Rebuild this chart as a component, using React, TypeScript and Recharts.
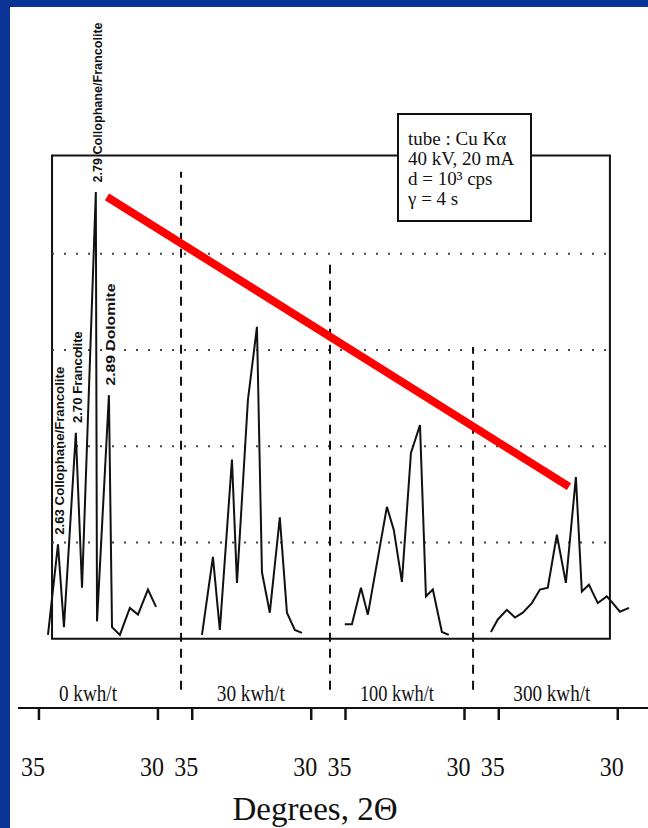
import React from "react";
import {
  ComposedChart,
  Line,
  XAxis,
  YAxis,
  ReferenceArea,
  ReferenceLine,
  ReferenceDot,
} from "recharts";

// energy input for each diffractogram panel
const PANELS = ["0 kwh/t", "30 kwh/t", "100 kwh/t", "300 kwh/t"];

// 2θ (degrees) and relative intensity
const ANGLES_0 = [34.62, 34.2, 33.95, 33.45, 33.19, 32.61, 32.56, 32.06, 31.93, 31.6, 31.18, 30.84, 30.42, 30.08];
const COUNTS_0 = [0.04, 0.98, 0.12, 2.14, 0.53, 4.64, 0.18, 2.53, 0.12, 0.04, 0.32, 0.25, 0.51, 0.33];

const ANGLES_1 = [34.59, 34.13, 33.84, 33.33, 33.12, 32.66, 32.28, 32.07, 31.74, 31.32, 31.02, 30.69, 30.39];
const COUNTS_1 = [0.04, 0.85, 0.09, 1.86, 0.58, 2.48, 3.24, 0.69, 0.27, 1.26, 0.27, 0.09, 0.06];

const ANGLES_2 = [35.03, 34.73, 34.35, 34.06, 33.26, 32.97, 32.63, 32.25, 31.87, 31.62, 31.33, 30.95, 30.66];
const COUNTS_2 = [0.15, 0.15, 0.53, 0.25, 1.37, 1.13, 0.59, 1.93, 2.22, 0.44, 0.51, 0.07, 0.04];

const ANGLES_3 = [35.33, 35.04, 34.66, 34.32, 33.99, 33.61, 33.27, 32.94, 32.56, 32.18, 31.76, 31.51, 31.21, 30.84, 30.46, 30.21, 29.91, 29.53];
const COUNTS_3 = [0.07, 0.2, 0.3, 0.22, 0.27, 0.37, 0.51, 0.53, 1.08, 0.58, 1.68, 0.49, 0.56, 0.37, 0.44, 0.37, 0.28, 0.32];

// d-spacing labels on the untreated sample, and which point of trace 0 they sit on
const PEAK_LABELS = ["2.63 Collophane/Francolite", "2.70 Francolite", "2.79 Collophane/Francolite", "2.89 Dolomite"];
const PEAK_INDEX = [1, 3, 5, 7];
const PEAK_LABEL_LEN = [168, 92, 160, 102];

const TICK_ANGLES = [35, 30];
const GRID_LEVELS = [1, 2, 3, 4];

const INFO_LINES = ["tube : Cu Kα", "40 kV, 20 mA", "d = 10³ cps", "γ = 4 s"];

// layout of the shared axis: each panel is 5 degrees, panels laid side by side
const PANEL_STEP = 6.44;
const toX = (panel: number, angle: number) => panel * PANEL_STEP + (35 - angle);

const ANGLES = [ANGLES_0, ANGLES_1, ANGLES_2, ANGLES_3];
const COUNTS = [COUNTS_0, COUNTS_1, COUNTS_2, COUNTS_3];

const series = PANELS.map((name, p) => ({
  name,
  data: ANGLES[p].map((a, i) => ({ x: toX(p, a), y: COUNTS[p][i] })),
}));

const ticks = PANELS.flatMap((_, p) => TICK_ANGLES.map((a) => toX(p, a)));
const tickText = new Map<number, string>();
PANELS.forEach((_, p) => TICK_ANGLES.forEach((a) => tickText.set(toX(p, a), String(a))));

const SEPARATORS = [
  { x: 5.97, top: 4.85 },
  { x: 12.23, top: 3.9 },
  { x: 18.24, top: 3.03 },
];
const PANEL_LABEL_X = [2.06, 8.9, 15.04, 21.55];
const PANEL_LABEL_W = [58, 68, 74, 77];

const BOX = { x1: 0.55, x2: 23.99, y1: 0, y2: 5.02 };
const INK = "#111";

const AngleTick = (props: any) => {
  const { x, y, payload } = props;
  return (
    <text
      x={x - 6}
      y={y + 56}
      textAnchor="middle"
      fontFamily="'Liberation Serif', serif"
      fontSize={28}
      fill={INK}
      textLength={24}
      lengthAdjust="spacingAndGlyphs"
    >
      {tickText.get(payload.value) ?? ""}
    </text>
  );
};

const verticalLabel = (text: string, len: number) => (props: any) => {
  const { x, y } = props.viewBox;
  return (
    <text
      x={x}
      y={y}
      transform={`rotate(-90, ${x}, ${y})`}
      textAnchor="start"
      dominantBaseline="central"
      fontFamily="'Liberation Sans', Arial, sans-serif"
      fontWeight="bold"
      fontSize={12}
      fill={INK}
      textLength={len}
      lengthAdjust="spacingAndGlyphs"
    >
      {text}
    </text>
  );
};

const panelLabel = (text: string, width: number) => (props: any) => {
  const { x, y } = props.viewBox;
  return (
    <text
      x={x}
      y={y + 8}
      textAnchor="middle"
      fontFamily="'Liberation Serif', serif"
      fontSize={23}
      fill={INK}
      textLength={width}
      lengthAdjust="spacingAndGlyphs"
    >
      {text}
    </text>
  );
};

export default function App() {
  const trace0 = series[0].data;

  return (
    <div
      style={{
        position: "absolute",
        left: 0,
        top: 0,
        width: 648,
        height: 828,
        background: "#0a3597",
        overflow: "hidden",
      }}
    >
      <div
        style={{
          position: "absolute",
          left: 10,
          top: 7,
          right: 0,
          bottom: 0,
          background: "#fff",
        }}
      />

      <div style={{ position: "absolute", left: 0, top: 0 }}>
        <ComposedChart
          width={648}
          height={828}
          margin={{ top: 142, right: 0, bottom: 0, left: 18 }}
        >
          <XAxis
            dataKey="x"
            type="number"
            domain={[-0.88, 25.59]}
            allowDataOverflow
            ticks={ticks}
            interval={0}
            height={120}
            tickSize={12}
            tickMargin={0}
            axisLine={{ stroke: INK, strokeWidth: 2 }}
            tickLine={{ stroke: INK, strokeWidth: 2.5 }}
            tick={<AngleTick />}
            label={(props: any) => {
              const vb = props.viewBox;
              return (
                <text
                  x={vb.x + vb.width / 2 - 18}
                  y={vb.y + 112}
                  textAnchor="middle"
                  fontFamily="'Liberation Serif', serif"
                  fontSize={33}
                  fill={INK}
                >
                  Degrees, 2Θ
                </text>
              );
            }}
          />
          <YAxis
            type="number"
            domain={[-0.72, 5.16]}
            allowDataOverflow
            width={0}
            tick={false}
            tickLine={false}
            axisLine={{ stroke: INK, strokeWidth: 2 }}
          />

          <ReferenceArea
            x1={BOX.x1}
            x2={BOX.x2}
            y1={BOX.y1}
            y2={BOX.y2}
            fill="none"
            fillOpacity={0}
            stroke={INK}
            strokeWidth={2}
          />

          {GRID_LEVELS.map((g) => (
            <ReferenceLine
              key={g}
              segment={[
                { x: BOX.x1, y: g },
                { x: BOX.x2, y: g },
              ]}
              stroke="#444"
              strokeWidth={2}
              strokeDasharray="2 10"
            />
          ))}

          {SEPARATORS.map((s, i) => (
            <ReferenceLine
              key={i}
              segment={[
                { x: s.x, y: -0.53 },
                { x: s.x, y: s.top },
              ]}
              stroke={INK}
              strokeWidth={2}
              strokeDasharray="9 7"
            />
          ))}

          {series.map((s) => (
            <Line
              key={s.name}
              name={s.name}
              data={s.data}
              dataKey="y"
              type="linear"
              stroke={INK}
              strokeWidth={2}
              dot={false}
              activeDot={false}
              isAnimationActive={false}
            />
          ))}

          {PEAK_LABELS.map((t, i) => {
            const pt = trace0[PEAK_INDEX[i]];
            return (
              <ReferenceDot
                key={t}
                x={pt.x + 0.08}
                y={pt.y + 0.1}
                r={0}
                fill="none"
                stroke="none"
                label={verticalLabel(t, PEAK_LABEL_LEN[i])}
              />
            );
          })}

          {PANELS.map((t, i) => (
            <ReferenceDot
              key={t}
              x={PANEL_LABEL_X[i]}
              y={-0.56}
              r={0}
              fill="none"
              stroke="none"
              label={panelLabel(t, PANEL_LABEL_W[i])}
            />
          ))}

          <ReferenceLine
            segment={[
              { x: 2.86, y: 4.59 },
              { x: 22.27, y: 1.58 },
            ]}
            stroke="#ff0000"
            strokeWidth={8}
          />
        </ComposedChart>
      </div>

      <div
        style={{
          position: "absolute",
          left: 397,
          top: 113,
          width: 135,
          height: 109,
          border: `2px solid ${INK}`,
          background: "#fff",
          paddingTop: 14,
          paddingLeft: 9,
          boxSizing: "border-box",
          fontFamily: "'Liberation Serif', serif",
          fontSize: 19,
          lineHeight: "20px",
          color: INK,
          whiteSpace: "nowrap",
        }}
      >
        {INFO_LINES.map((l) => (
          <div key={l}>{l}</div>
        ))}
      </div>
    </div>
  );
}
